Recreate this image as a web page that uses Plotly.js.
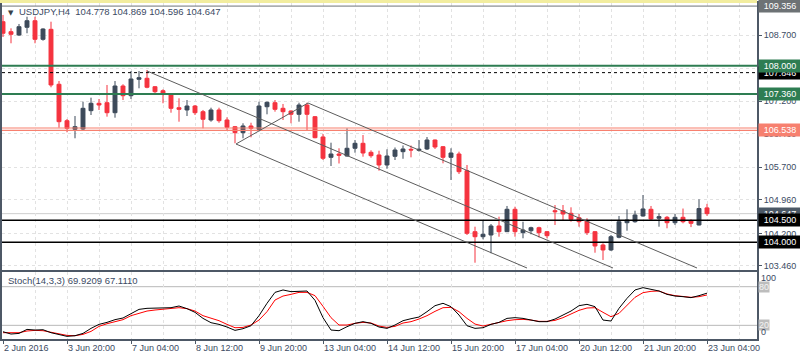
<!DOCTYPE html>
<html><head><meta charset="utf-8">
<script src="https://cdn.plot.ly/plotly-3.0.1.min.js"></script>
<style>html,body{margin:0;padding:0;background:#fff;}#chart{width:800px;height:360px;}</style>
</head><body><div id="chart"></div>
<script>
// ---------- data ----------
const symbol = 'USDJPY,H4';
const openP  = [109.002,108.775,108.700,108.875,109.024,108.602,108.829,107.582,106.756,106.561,
  106.567,106.983,107.151,107.164,106.937,107.543,107.323,107.695,107.718,107.527,
  107.436,107.355,107.051,106.999,107.089,106.960,106.772,106.999,106.772,106.620,
  106.484,106.636,106.561,107.073,107.164,107.037,106.976,106.901,107.112,106.847,
  106.387,105.925,106.000,105.955,106.130,106.243,106.039,105.978,105.751,105.948,
  106.053,106.107,106.084,106.114,106.318,106.166,105.925,106.000,105.622,104.238,
  104.124,104.163,104.367,104.238,104.746,104.215,104.260,104.328,104.238,104.714,
  104.714,104.655,104.555,104.487,104.238,103.936,103.823,104.111,104.442,104.464,
  104.594,104.746,104.542,104.564,104.442,104.564,104.487,104.390,104.778];
const highP  = [109.154,108.852,108.950,109.115,109.115,108.852,109.002,107.656,106.794,106.862,
  107.187,107.278,107.248,107.566,107.656,107.582,107.883,107.883,107.906,107.543,
  107.468,107.377,107.264,107.225,107.112,106.999,107.051,107.051,106.833,106.636,
  106.697,106.710,107.187,107.190,107.225,107.135,106.990,107.164,107.164,106.862,
  106.454,106.257,106.130,106.583,106.318,106.431,106.084,106.075,106.107,106.148,
  106.193,106.193,106.318,106.386,106.328,106.182,106.130,106.053,105.751,104.351,
  104.487,104.412,104.578,104.821,104.805,104.464,104.351,104.351,104.254,104.843,
  104.843,104.791,104.639,104.542,104.254,103.974,104.163,104.594,104.746,104.714,
  105.070,104.821,104.655,104.594,104.639,104.763,104.519,104.973,104.869];
const lowP   = [108.655,108.512,108.677,108.739,108.512,108.571,107.514,106.597,106.493,106.357,
  106.522,106.885,106.999,106.847,106.824,107.225,107.248,107.491,107.491,107.355,
  107.151,106.937,106.733,106.862,106.885,106.583,106.733,106.710,106.530,106.243,
  106.357,106.379,106.545,106.901,106.960,106.772,106.697,106.733,106.545,106.357,
  105.864,105.728,105.785,105.939,106.030,105.939,105.916,105.622,105.665,105.864,
  105.892,105.925,106.053,106.091,106.114,105.789,105.411,105.547,104.163,103.534,
  104.065,103.748,104.124,104.231,104.124,104.088,104.179,104.105,104.088,104.390,
  104.503,104.464,104.351,104.163,103.761,103.596,103.800,104.088,104.260,104.442,
  104.579,104.503,104.351,104.315,104.390,104.428,104.342,104.380,104.596];
const closeP = [108.739,108.716,108.888,109.024,108.602,108.836,107.566,106.733,106.583,106.620,
  107.037,107.151,107.112,106.937,107.543,107.323,107.702,107.731,107.514,107.414,
  107.355,107.037,107.014,107.089,106.937,106.788,106.999,106.756,106.606,106.484,
  106.636,106.583,107.089,107.173,107.014,106.960,106.901,107.112,106.901,106.370,
  105.903,106.000,105.971,106.130,106.243,106.023,105.962,105.751,105.955,106.091,
  106.114,106.091,106.107,106.318,106.159,105.925,106.023,105.599,104.201,104.124,
  104.179,104.367,104.238,104.746,104.238,104.276,104.328,104.215,104.147,104.691,
  104.639,104.519,104.464,104.215,103.913,103.823,104.124,104.464,104.503,104.617,
  104.753,104.526,104.579,104.442,104.564,104.464,104.428,104.763,104.647];

const stochK = [10.1,6.5,7.5,13.7,12.7,13.2,8.6,6.0,2.9,3.9,
  7.5,15.3,21.5,24.6,28.8,31.4,38.6,44.8,46.4,46.4,
  46.4,47.4,50.0,45.9,40.2,30.8,24.1,21.5,17.4,12.2,
  14.8,19.4,35.0,54.2,71.2,74.9,72.3,73.3,73.3,58.8,
  31.9,12.7,11.7,17.9,23.1,25.7,23.1,17.4,15.3,20.5,
  27.2,30.3,32.9,41.2,50.5,54.2,49.0,36.0,19.4,15.3,
  16.3,21.5,24.6,30.8,31.9,30.8,28.2,25.7,25.7,29.8,
  36.0,42.2,50.5,52.6,49.0,28.2,26.7,46.4,61.9,74.9,
  78.5,76.4,73.3,68.1,65.5,64.5,63.0,66.1,69.9209];
const stochD = [8.6,8.1,8.6,11.2,12.2,11.7,9.1,6.5,4.4,3.9,
  6.0,10.6,18.4,22.5,25.1,28.8,35.0,38.6,42.2,43.8,
  44.8,45.9,47.4,45.9,42.2,35.0,30.8,27.2,21.5,16.3,
  16.8,20.5,28.2,41.2,59.3,65.5,68.1,71.2,71.2,66.1,
  49.5,31.9,20.5,20.5,23.1,24.6,23.6,18.9,16.8,18.4,
  23.6,25.7,29.8,35.0,41.7,47.4,47.9,41.2,30.8,22.0,
  18.9,21.5,25.1,27.2,28.8,29.3,28.2,26.2,26.2,27.7,
  31.9,37.6,43.3,46.9,47.4,40.2,33.4,38.6,50.5,63.5,
  70.7,72.8,73.3,68.7,66.1,64.5,63.5,64.5,67.1110];

const timeLabels = ['2 Jun 2016','3 Jun 20:00','7 Jun 04:00','8 Jun 12:00','9 Jun 20:00','13 Jun 04:00',
  '14 Jun 12:00','15 Jun 20:00','17 Jun 04:00','20 Jun 12:00','21 Jun 20:00','23 Jun 04:00'];
const timeLabelBars = [0,8,16,24,32,40,48,56,64,72,80,88];
const priceTicks = [108.70,107.95,107.20,106.46,105.70,104.96,104.20,103.46];
const hiddenTicks = [107.95]; // covered by the level boxes in the reference

const greenLevels = [108.000, 107.360];
const dashedLevel = 107.846;
const highLevel = 109.356;
const salmonLevels = [106.590, 106.538];
const blackLevels = [104.500, 104.000];
const stochLevels = [80, 20];
// trend channel: [bar0, price0, bar1, price1]
const channelLines = [
  [18, 107.883, 76.25, 103.414],
  [38.125, 107.157, 86.75, 103.414],
  [29.125, 106.227, 65.5, 103.414],
  [29.125, 106.227, 38.125, 107.157]
];

// ---------- styling ----------
const FONT = '"Liberation Sans", Arial, sans-serif';
const TXT = '#3b4a63';
const FRAME = '#4d5866';
const GRID = '#e2e2e2';
const UP = '#3d4a5a', DOWN = '#f5333f';
const GREEN = '#2e7d52', SALMON = '#f7806f';

const idx = openP.map((_, i) => i);
const last = openP.length - 1;
const xr = [-0.125, 94.25];

const traces = [
  {type:'candlestick', x:idx, open:openP, high:highP, low:lowP, close:closeP,
   xaxis:'x', yaxis:'y', hoverinfo:'none', whiskerwidth:0,
   increasing:{line:{color:UP, width:1}, fillcolor:UP},
   decreasing:{line:{color:DOWN, width:1}, fillcolor:DOWN}},
  {type:'scatter', mode:'lines', x:idx, y:stochD, xaxis:'x2', yaxis:'y2',
   line:{color:'#ff0000', width:1}, hoverinfo:'none'},
  {type:'scatter', mode:'lines', x:idx, y:stochK, xaxis:'x2', yaxis:'y2',
   line:{color:'#000000', width:1}, hoverinfo:'none'}
];

const shapes = [];
shapes.push({type:'rect', xref:'paper', yref:'paper', x0:-0.01, x1:1, y0:1, y1:1.012,
  fillcolor:'#f2ed9f', line:{width:0}, layer:'above'});
shapes.push({type:'line', xref:'paper', x0:0, x1:1, yref:'y', y0:closeP[last], y1:closeP[last],
  line:{color:'#cfcfcf', width:1}, layer:'between'});
shapes.push({type:'line', xref:'paper', x0:0, x1:1, yref:'y', y0:highLevel, y1:highLevel,
  line:{color:'#6f7478', width:1}});
greenLevels.forEach(p => shapes.push({type:'line', xref:'paper', x0:0, x1:1, yref:'y', y0:p, y1:p,
  line:{color:GREEN, width:2}}));
shapes.push({type:'line', xref:'paper', x0:0, x1:1, yref:'y', y0:dashedLevel, y1:dashedLevel,
  line:{color:'#000', width:1, dash:'3px,3px'}});
salmonLevels.forEach(p => shapes.push({type:'line', xref:'paper', x0:0, x1:1, yref:'y', y0:p, y1:p,
  line:{color:SALMON, width:1.2}}));
blackLevels.forEach(p => shapes.push({type:'line', xref:'paper', x0:0, x1:1, yref:'y', y0:p, y1:p,
  line:{color:'#000', width:1.5}}));
channelLines.forEach(c => shapes.push({type:'line', xref:'x', yref:'y', x0:c[0], y0:c[1], x1:c[2], y1:c[3],
  line:{color:'#5c5c5c', width:1}}));
stochLevels.forEach(v => shapes.push({type:'line', xref:'paper', x0:0, x1:1, yref:'y2', y0:v, y1:v,
  line:{color:'#b8b8b8', width:1}, layer:'between'}));

function priceBox(p, bg, fg) {
  return {xref:'paper', x:1, xanchor:'left', xshift:1, yref:'y', y:p, yanchor:'middle',
    text:p.toFixed(3), showarrow:false, bgcolor:bg, borderpad:1, width:40, height:10, align:'center',
    font:{family:FONT, size:9, color:fg}};
}
const annotations = [
  priceBox(highLevel, '#6d7275', '#fff'),
  priceBox(dashedLevel, '#000', '#fff'),
  priceBox(greenLevels[0], GREEN, '#fff'),
  priceBox(greenLevels[1], GREEN, '#fff'),
  priceBox(salmonLevels[1], SALMON, '#fff'),
  priceBox(closeP[last], '#4b5866', '#fff'),
  priceBox(blackLevels[0], '#000', '#fff'),
  priceBox(blackLevels[1], '#000', '#fff'),
  {xref:'paper', x:0, xanchor:'left', xshift:4, yref:'paper', y:1, yanchor:'top', yshift:-4,
   text:'\u25BC', showarrow:false, font:{family:'DejaVu Sans', size:7, color:'#3a3f46'}},
  {xref:'paper', x:0, xanchor:'left', xshift:15, yref:'paper', y:1, yanchor:'top', yshift:-1,
   text:symbol + '\u00a0\u00a0' + [openP[last], highP[last], lowP[last], closeP[last]].map(v => v.toFixed(3)).join(' '),
   showarrow:false, font:{family:FONT, size:9.5, color:TXT}},
  {xref:'paper', x:0, xanchor:'left', xshift:4, yref:'y2', y:102.8, yanchor:'top', yshift:-1,
   text:'Stoch(14,3,3) ' + stochK[last].toFixed(4) + ' ' + stochD[last].toFixed(4),
   showarrow:false, font:{family:FONT, size:9.5, color:TXT}},
  {xref:'paper', x:1, xanchor:'left', xshift:2, yref:'y2', y:100, yanchor:'middle', yshift:-4,
   text:'100', showarrow:false, font:{family:FONT, size:9, color:TXT}},
  {xref:'paper', x:1, xanchor:'left', xshift:1, yref:'y2', y:80, yanchor:'middle',
   text:'80', showarrow:false, bgcolor:'#bdbdbd', borderpad:0, font:{family:FONT, size:9, color:'#f4f4f4'}},
  {xref:'paper', x:1, xanchor:'left', xshift:1, yref:'y2', y:20, yanchor:'middle',
   text:'20', showarrow:false, bgcolor:'#bdbdbd', borderpad:0, font:{family:FONT, size:9, color:'#f4f4f4'}},
  {xref:'paper', x:1, xanchor:'left', xshift:2, yref:'y2', y:0, yanchor:'middle', yshift:6,
   text:'0', showarrow:false, font:{family:FONT, size:9, color:TXT}}
];
timeLabels.forEach((t, k) => annotations.push({xref:'x2', x:timeLabelBars[k], xanchor:'left', xshift:-1,
  yref:'paper', y:0, yanchor:'top', yshift:-2, text:t, showarrow:false,
  font:{family:FONT, size:9, color:TXT}}));

const axBase = {showline:true, mirror:true, linecolor:FRAME, linewidth:2, zeroline:false, fixedrange:true};
const layout = {
  width:800, height:360,
  margin:{l:2, r:43, t:3, b:21, pad:0},
  paper_bgcolor:'#fff', plot_bgcolor:'#fff', showlegend:false,
  font:{family:FONT, size:9, color:TXT},
  xaxis:Object.assign({}, axBase, {domain:[0,1], anchor:'y', range:xr, showticklabels:false, ticks:'',
    tickmode:'linear', tick0:0, dtick:4, showgrid:true, gridcolor:GRID, griddash:'3px,3px', gridwidth:1,
    rangeslider:{visible:false}}),
  yaxis:Object.assign({}, axBase, {domain:[0.2054,1], anchor:'x', side:'right', range:[103.369,109.426],
    tickmode:'array', tickvals:priceTicks,
    ticktext:priceTicks.map(v => hiddenTicks.includes(v) ? '' : v.toFixed(3)),
    ticks:'outside', ticklen:3, tickcolor:FRAME, tickfont:{family:FONT, size:9, color:TXT},
    showgrid:true, gridcolor:GRID, griddash:'3px,3px'}),
  xaxis2:Object.assign({}, axBase, {domain:[0,1], anchor:'y2', range:xr, showticklabels:false,
    tickmode:'linear', tick0:0, dtick:8, ticks:'outside', ticklen:3, tickcolor:FRAME,
    showgrid:true, gridcolor:GRID, griddash:'3px,3px',
    minor:{tick0:0, dtick:4, showgrid:true, gridcolor:GRID, griddash:'3px,3px', ticks:''}}),
  yaxis2:Object.assign({}, axBase, {domain:[0,0.1994], anchor:'x2', side:'right', range:[-1.2,102.8],
    showticklabels:false, ticks:'', showgrid:false}),
  shapes:shapes, annotations:annotations
};
Plotly.newPlot('chart', traces, layout, {staticPlot:true, displayModeBar:false});
</script></body></html>
